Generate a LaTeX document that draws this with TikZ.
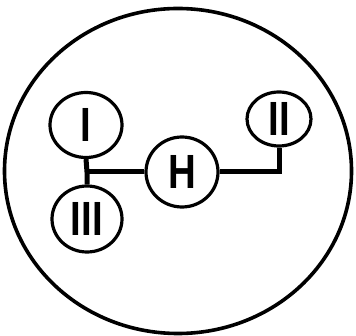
\documentclass[tikz,border=0pt]{standalone}
\usepackage{fontspec}
\setmainfont{Liberation Sans}
\usetikzlibrary{shapes.geometric}
\newcommand{\numtxt}[1]{\scalebox{0.8}[1]{\fontsize{48}{48}\selectfont\bfseries #1}}
\begin{document}
\begin{tikzpicture}[x=1pt,y=-1pt,
  orb/.style={draw,line width=3.2pt,ellipse,inner sep=0pt},
  link/.style={line width=5pt}]
\useasboundingbox (0,0) rectangle (356,336);
\node[draw,line width=3.6pt,ellipse,minimum width=347pt,minimum height=325pt,inner sep=0pt] (outer) at (178,171) {};
\node[orb,minimum width=72pt,minimum height=65pt] (I) at (86,125) {\numtxt{I}};
\node[orb,minimum width=70pt,minimum height=66pt] (III) at (87,219) {\numtxt{III}};
\node[orb,minimum width=72pt,minimum height=70pt] (H) at (182,172) {\numtxt{H}};
\node[orb,minimum width=64pt,minimum height=54pt] (II) at (279,119) {\numtxt{II}};
\coordinate (J) at (I.south |- H.west);
\draw[link] (I.south) -- (J -| III.north) -- (III.north);
\draw[link] (J) -- (H.west);
\draw[link] (H.east) -| (II.south);
\end{tikzpicture}
\end{document}
